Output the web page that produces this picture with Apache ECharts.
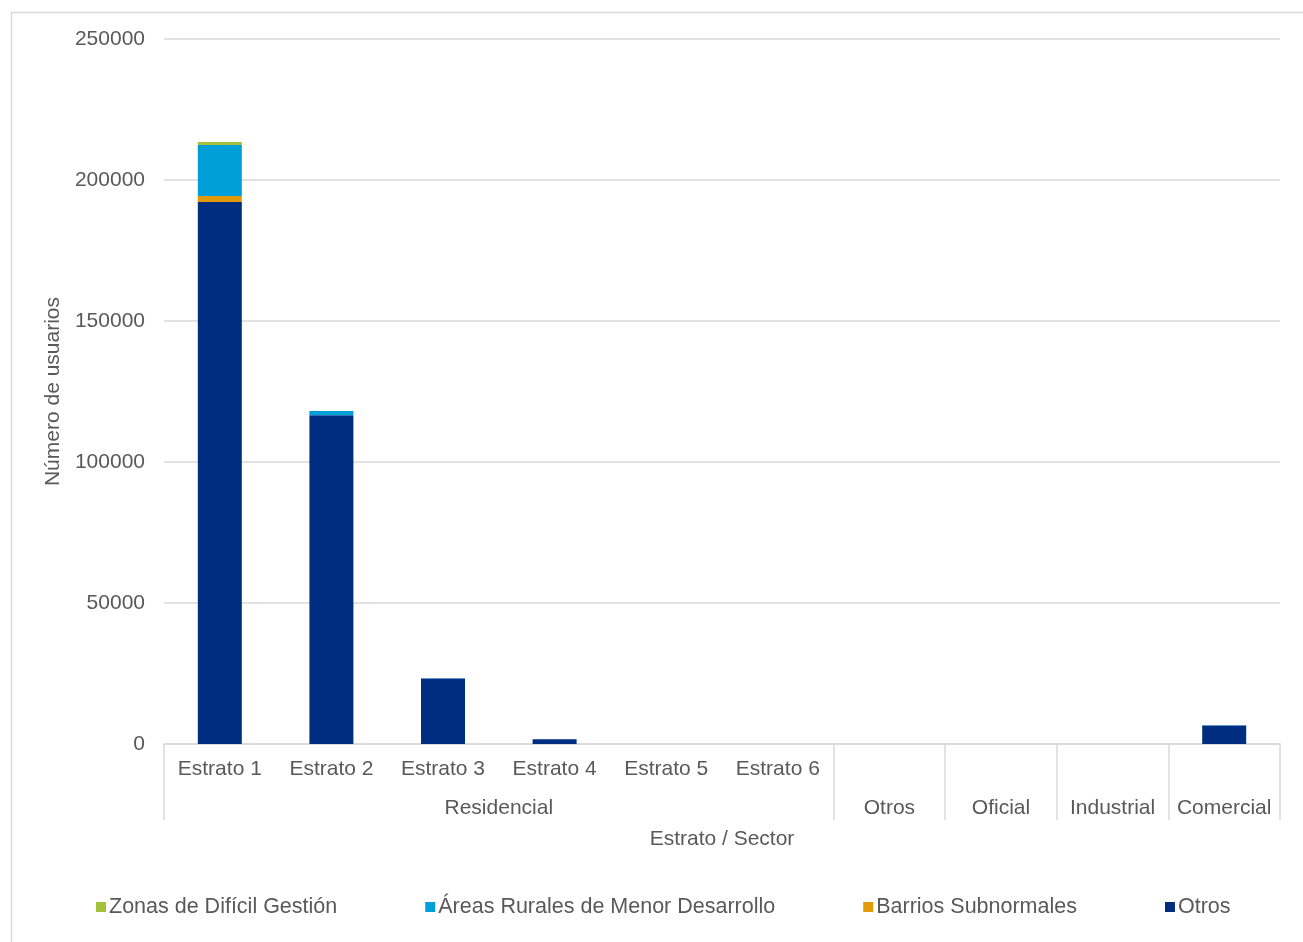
<!DOCTYPE html>
<html>
<head>
<meta charset="utf-8">
<script src="https://cdn.jsdelivr.net/npm/echarts@6/dist/echarts.min.js"></script>
<style>
html,body{margin:0;padding:0;background:#fff;}
#chart{width:1303px;height:942px;}
</style>
</head>
<body>
<div id="chart"></div>
<script>
// Categories (level 1) and groups (level 2)
const categories = ['Estrato 1','Estrato 2','Estrato 3','Estrato 4','Estrato 5','Estrato 6','Otros','Oficial','Industrial','Comercial'];
const categoryLabels = ['Estrato 1','Estrato 2','Estrato 3','Estrato 4','Estrato 5','Estrato 6','','','',''];
const groupNames = ['Residencial','Otros','Oficial','Industrial','Comercial'];
const groupSizes = [6,1,1,1,1];

// Series values
const otros        = [192200, 116600, 23200, 1650, 20, 10, 10, 10, 10, 6600];
const barrios      = [2100, 0, 0, 0, 0, 0, 0, 0, 0, 0];
const areasRurales = [18100, 1500, 150, 20, 0, 0, 0, 0, 0, 60];
const zonasDificil = [1050, 0, 0, 0, 0, 0, 0, 0, 0, 0];

const yTicks = [0, 50000, 100000, 150000, 200000, 250000];

// Group boundaries and centers in category units
const bounds = [0];
groupSizes.forEach(s => bounds.push(bounds[bounds.length-1] + s));
const centers = groupSizes.map((s,i) => bounds[i] + s/2);

const font = 'Liberation Sans, Arial, sans-serif';
const txt = '#595959';
const gridCol = '#d9d9d9';

const chart = echarts.init(document.getElementById('chart'));
chart.setOption({
  animation: false,
  backgroundColor: '#fff',
  textStyle: { fontFamily: font },
  graphic: [{
    type: 'rect', left: 9, top: 10, shape: { width: 1400, height: 1000 },
    style: { fill: 'none', stroke: gridCol, lineWidth: 1.5 }, silent: true, z: -10
  }],
  grid: { left: 164, right: 23, top: 39, bottom: 198, containLabel: false },
  legend: {
    bottom: 19, left: 91,
    itemWidth: 10, itemHeight: 10, itemGap: 88,
    icon: 'rect',
    textStyle: { fontSize: 21.5, color: txt, fontFamily: font, padding: [0,0,0,-2] },
    data: ['Zonas de Difícil Gestión','Áreas Rurales de Menor Desarrollo','Barrios Subnormales','Otros']
  },
  xAxis: [{
    type: 'category',
    data: categories,
    axisLine: { lineStyle: { color: gridCol, width: 1.5 } },
    axisTick: { show: false },
    axisLabel: {
      interval: 0, fontSize: 21, color: txt, margin: 15, fontFamily: font,
      formatter: (v, i) => categoryLabels[i]
    }
  }, {
    type: 'value',
    position: 'bottom',
    min: bounds[0], max: bounds[bounds.length-1],
    axisLine: { show: false },
    splitLine: { show: false },
    axisTick: { show: true, customValues: bounds, length: 76, lineStyle: { color: gridCol, width: 1.5 } },
    axisLabel: {
      customValues: centers, fontSize: 21, color: txt, margin: 54, fontFamily: font,
      formatter: (v) => { const i = centers.indexOf(v); return i >= 0 ? groupNames[i] : ''; }
    },
    name: 'Estrato / Sector',
    nameLocation: 'middle',
    nameGap: 85,
    nameTextStyle: { fontSize: 21, color: txt, fontFamily: font }
  }],
  yAxis: {
    type: 'value',
    min: yTicks[0], max: yTicks[yTicks.length-1], interval: yTicks[1]-yTicks[0],
    axisLine: { show: false },
    axisTick: { show: false },
    splitLine: { lineStyle: { color: gridCol, width: 1.5 } },
    axisLabel: { fontSize: 21, color: txt, margin: 19, fontFamily: font, formatter: (v) => String(v) },
    name: 'Número de usuarios',
    nameLocation: 'middle',
    nameGap: 92,
    nameTextStyle: { fontSize: 21, color: txt, fontFamily: font }
  },
  series: [
    { name: 'Otros', type: 'bar', stack: 's', data: otros, barWidth: 44, itemStyle: { color: '#002D80' } },
    { name: 'Barrios Subnormales', type: 'bar', stack: 's', data: barrios, barWidth: 44, itemStyle: { color: '#E29A08' } },
    { name: 'Áreas Rurales de Menor Desarrollo', type: 'bar', stack: 's', data: areasRurales, barWidth: 44, itemStyle: { color: '#009FDA' } },
    { name: 'Zonas de Difícil Gestión', type: 'bar', stack: 's', data: zonasDificil, barWidth: 44, itemStyle: { color: '#A3C13B' } }
  ]
});
</script>
</body>
</html>
